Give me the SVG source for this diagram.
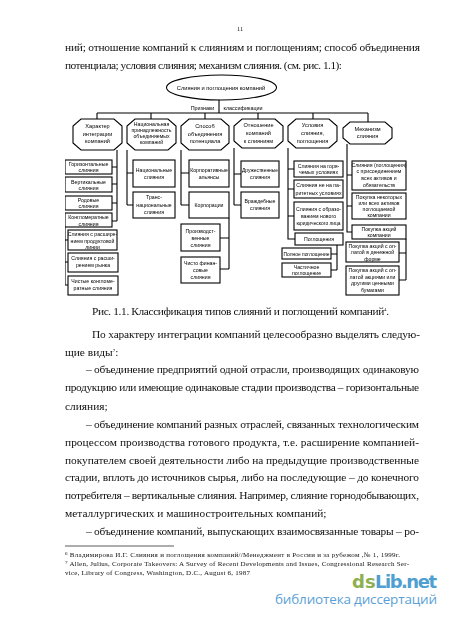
<svg xmlns="http://www.w3.org/2000/svg" width="450" height="620" viewBox="0 0 450 620">
<style>
.s{fill:#fff;stroke:#000;stroke-width:1.100}
.c{fill:none;stroke:#000;stroke-width:1.100}
.n{font-family:"Liberation Sans",Arial,sans-serif;font-size:5.200px;fill:#000;text-anchor:middle}
.h{font-size:5.600px}
.b{font-family:"Liberation Serif","Times New Roman",serif;font-size:11.400px;fill:#111}
.f{font-family:"Liberation Serif","Times New Roman",serif;font-size:7px;fill:#111}
.u{font-size:5px}
</style>
<defs><filter id="soft" x="0" y="0" width="100%" height="100%"><feGaussianBlur stdDeviation="0.2"/></filter></defs>
<rect width="450" height="620" fill="#fff"/>
<g filter="url(#soft)">
<g id="connectors" class="c">
<path d="M219 99V113M97 113H368M97 113V119M151 113V119M205 113V119M258 113V119M313 113V119M368 113V122"/>
<path d="M117 150V221M112 167H117M112 184H117M112 203H117M112 221H117M65 227V285H68M65 240H68M65 262H68"/>
<path d="M127 150V205M127 173H133M127 205H133"/>
<path d="M181 150V205M181 173H189M181 205H189M229 218V269M220 238H229M220 269H229"/>
<path d="M234 148V205M234 174H241M234 205H241"/>
<path d="M288 148V239H295M288 169H294M288 189H294M288 216H294M337 245V270M331 254H337M331 270H337"/>
<path d="M347 144V232H352M347 175H352M347 206H352M406 239V280M399 253H406M399 280H406"/>
</g>
<g id="root"><ellipse class="s" cx="221.500" cy="87.500" rx="55" ry="12.500"/><text class="n" x="221" y="89.500" style="font-size:5.700px">Слияния и поглощения компаний</text></g>
<g id="label-1"><text class="n" x="202.500" y="110" style="font-size:5.400px">Признаки</text><text class="n" x="243" y="110" style="font-size:5.400px">классификации</text></g>
<g id="h1"><path class="s" d="M81 119H114L122 126V143L114 150H81L73 143V126Z"/><text class="n h" x="97.500" y="128">Характер</text><text class="n h" x="97.500" y="136">интеграции</text><text class="n h" x="97.500" y="143">компаний</text></g>
<g id="h2"><path class="s" d="M135 119H168L176 126V143L168 150H135L127 143V126Z"/><text class="n" x="151.500" y="126">Национальная</text><text class="n" x="151.500" y="132">принадлежность</text><text class="n" x="151.500" y="138">объединяемых</text><text class="n" x="151.500" y="144">компаний</text></g>
<g id="h3"><path class="s" d="M189 119H221L229 126V143L221 150H189L181 143V126Z"/><text class="n h" x="205" y="128">Способ</text><text class="n h" x="205" y="136">объединения</text><text class="n h" x="205" y="143">потенциала</text></g>
<g id="h4"><path class="s" d="M242 119H275L283 126V141L275 148H242L234 141V126Z"/><text class="n h" x="258.500" y="127">Отношение</text><text class="n h" x="258.500" y="135">компаний</text><text class="n h" x="258.500" y="143">к слияниям</text></g>
<g id="h5"><path class="s" d="M296 119H329L337 126V141L329 148H296L288 141V126Z"/><text class="n h" x="312.500" y="127">Условия</text><text class="n h" x="312.500" y="135">слияния,</text><text class="n h" x="312.500" y="143">поглощения</text></g>
<g id="h6"><path class="s" d="M350 122H385L392 128V138L385 144H350L343 138V128Z"/><text class="n h" x="367.500" y="131">Механизм</text><text class="n h" x="367.500" y="138">слияния</text></g>
<g id="a1"><rect class="s" x="65" y="160" width="47" height="14"/><text class="n" x="88.500" y="166">Горизонтальные</text><text class="n" x="88.500" y="172">слияния</text></g>
<g id="a2"><rect class="s" x="65" y="177" width="47" height="15"/><text class="n" x="88.500" y="184">Вертикальные</text><text class="n" x="88.500" y="190">слияния</text></g>
<g id="a3"><rect class="s" x="65" y="196" width="47" height="14"/><text class="n" x="88.500" y="202">Родовые</text><text class="n" x="88.500" y="208">слияния</text></g>
<g id="a4"><rect class="s" x="65" y="213" width="47" height="14"/><text class="n" x="88.500" y="219">Конгломератные</text><text class="n" x="88.500" y="225.500">слияния</text></g>
<g id="a5"><rect class="s" x="68" y="230" width="49" height="20"/><text class="n" x="92.500" y="236">Слияния с расшире-</text><text class="n" x="92.500" y="242.500">нием продуктовой</text><text class="n" x="92.500" y="249">линии</text></g>
<g id="a6"><rect class="s" x="68" y="253" width="50" height="19"/><text class="n" x="93" y="260">Слияния с расши-</text><text class="n" x="93" y="267">рением рынка</text></g>
<g id="a7"><rect class="s" x="68" y="276" width="50" height="19"/><text class="n" x="93" y="283">Чистые конгломе-</text><text class="n" x="93" y="290">ратные слияния</text></g>
<g id="b1"><rect class="s" x="133" y="160" width="42" height="27"/><text class="n" x="154" y="172">Национальные</text><text class="n" x="154" y="179">слияния</text></g>
<g id="b2"><rect class="s" x="133" y="192" width="42" height="26"/><text class="n" x="154" y="199">Транс-</text><text class="n" x="154" y="207">национальные</text><text class="n" x="154" y="214">слияния</text></g>
<g id="c1"><rect class="s" x="189" y="160" width="40" height="27"/><text class="n" x="209" y="172">Корпоративные</text><text class="n" x="209" y="179">альянсы</text></g>
<g id="c2"><rect class="s" x="189" y="192" width="40" height="26"/><text class="n" x="209" y="207">Корпорации</text></g>
<g id="c3"><rect class="s" x="181" y="224" width="39" height="27"/><text class="n" x="200.500" y="233">Производст-</text><text class="n" x="200.500" y="240">венные</text><text class="n" x="200.500" y="247">слияния</text></g>
<g id="c4"><rect class="s" x="181" y="257" width="39" height="26"/><text class="n" x="200.500" y="265">Чисто финан-</text><text class="n" x="200.500" y="272">совые</text><text class="n" x="200.500" y="279">слияния</text></g>
<g id="d1"><rect class="s" x="241" y="161" width="38" height="26"/><text class="n" x="260" y="172" style="font-size:4.900px">Дружественные</text><text class="n" x="260" y="179">слияния</text></g>
<g id="d2"><rect class="s" x="241" y="192" width="38" height="26"/><text class="n" x="260" y="203">Враждебные</text><text class="n" x="260" y="210">слияния</text></g>
<g id="e1"><rect class="s" x="294" y="161" width="49" height="16"/><text class="n" x="318.500" y="167.500">Слияния на горя-</text><text class="n" x="318.500" y="174">чемых условиях</text></g>
<g id="e2"><rect class="s" x="294" y="180" width="49" height="18"/><text class="n" x="318.500" y="187">Слияния не на па-</text><text class="n" x="318.500" y="194.500">ритетных условиях</text></g>
<g id="e3"><rect class="s" x="294" y="202" width="49" height="28"/><text class="n" x="318.500" y="211">Слияния с образо-</text><text class="n" x="318.500" y="218">ванием нового</text><text class="n" x="318.500" y="225" style="font-size:4.900px">юридического лица</text></g>
<g id="e4"><rect class="s" x="295" y="233" width="48" height="12"/><text class="n" x="319" y="241">Поглощения</text></g>
<g id="e5"><rect class="s" x="282" y="248" width="49" height="11"/><text class="n" x="306.500" y="255.500" style="font-size:4.900px">Полное поглощение</text></g>
<g id="e6"><rect class="s" x="282" y="263" width="49" height="14"/><text class="n" x="306.500" y="269">Частичное</text><text class="n" x="306.500" y="275">поглощение</text></g>
<g id="f1"><rect class="s" x="352" y="161" width="54" height="29"/><text class="n" x="379" y="167">Слияния (поглощения)</text><text class="n" x="379" y="173">с присоединением</text><text class="n" x="379" y="180">всех активов и</text><text class="n" x="379" y="187">обязательств</text></g>
<g id="f2"><rect class="s" x="352" y="193" width="54" height="26"/><text class="n" x="379" y="199">Покупка некоторых</text><text class="n" x="379" y="205">или всех активов</text><text class="n" x="379" y="211">поглощаемой</text><text class="n" x="379" y="217">компании</text></g>
<g id="f3"><rect class="s" x="352" y="225" width="54" height="14"/><text class="n" x="379" y="231">Покупка акций</text><text class="n" x="379" y="237">компании</text></g>
<g id="f4"><rect class="s" x="346" y="242" width="53" height="20"/><text class="n" x="372.500" y="247.500">Покупка акций с оп-</text><text class="n" x="372.500" y="254">латой в денежной</text><text class="n" x="372.500" y="260.500">форме</text></g>
<g id="f5"><rect class="s" x="346" y="266" width="53" height="29"/><text class="n" x="372.500" y="272">Покупка акций с оп-</text><text class="n" x="372.500" y="278.500">латой акциями или</text><text class="n" x="372.500" y="285">другими ценными</text><text class="n" x="372.500" y="292">бумагами</text></g>
<text class="f" x="237" y="31" style="font-size:6.500px">11</text>
<g class="b">
<text x="65" y="51" textLength="355">ний; отношение компаний к слияниям и поглощениям; способ объединения</text>
<text x="65" y="69" textLength="277">потенциала; условия слияния; механизм слияния. (см. рис. 1.1):</text>
<text x="92" y="315" textLength="297">Рис. 1.1. Классификация типов слияний и поглощений компаний<tspan class="u" dy="-4">4</tspan><tspan dy="4">.</tspan></text>
<text x="92" y="338" textLength="328">По характеру интеграции компаний целесообразно выделять следую-</text>
<text x="65" y="356">щие виды<tspan class="u" dy="-4">7</tspan><tspan dy="4">:</tspan></text>
<text x="86" y="373" textLength="333">– объединение предприятий одной отрасли, производящих одинаковую</text>
<text x="65" y="391" textLength="354">продукцию или имеющие одинаковые стадии производства – горизонтальные</text>
<text x="65" y="410">слияния;</text>
<text x="86" y="428" textLength="333">– объединение компаний разных отраслей, связанных технологическим</text>
<text x="65" y="446" textLength="354">процессом производства готового продукта, т.е. расширение компанией-</text>
<text x="65" y="464" textLength="354">покупателем своей деятельности либо на предыдущие производственные</text>
<text x="65" y="481" textLength="354">стадии, вплоть до источников сырья, либо на последующие – до конечного</text>
<text x="65" y="499" textLength="354">потребителя – вертикальные слияния. Например, слияние горнодобывающих,</text>
<text x="65" y="517">металлургических и машиностроительных компаний;</text>
<text x="86" y="535" textLength="333">– объединение компаний, выпускающих взаимосвязанные товары – ро-</text>
</g>
<path d="M65 546H174" stroke="#333" stroke-width="0.800"/>
<g class="f">
<text x="65" y="557" textLength="335"><tspan class="u" dy="-2">6</tspan><tspan dy="2"> Владимирова И.Г. Слияния и поглощения компаний//Менеджмент в России и за рубежом ,№ 1, 1999г.</tspan></text>
<text x="65" y="565.500" textLength="344"><tspan class="u" dy="-2">7</tspan><tspan dy="2"> Allen, Julius, Corporate Takeovers: A Survey of Recent Developments and Issues, Congressional Research Ser-</tspan></text>
<text x="65" y="574.500" textLength="185">vice, Library of Congress, Washington, D.C., August 6, 1987</text>
</g>
</g>
<text x="352" y="588" font-family="'DejaVu Sans',sans-serif" font-size="18" font-weight="bold" fill="#8cb04f">ds</text>
<text x="375" y="588" font-family="'DejaVu Sans',sans-serif" font-size="18" font-weight="bold" fill="#4f9fd0" textLength="62">Lib.net</text>
<text x="275" y="604" font-family="'Open Sans','DejaVu Sans',sans-serif" font-size="13.500" fill="#5b9fd6" textLength="162">библиотека диссертаций</text>
</svg>
